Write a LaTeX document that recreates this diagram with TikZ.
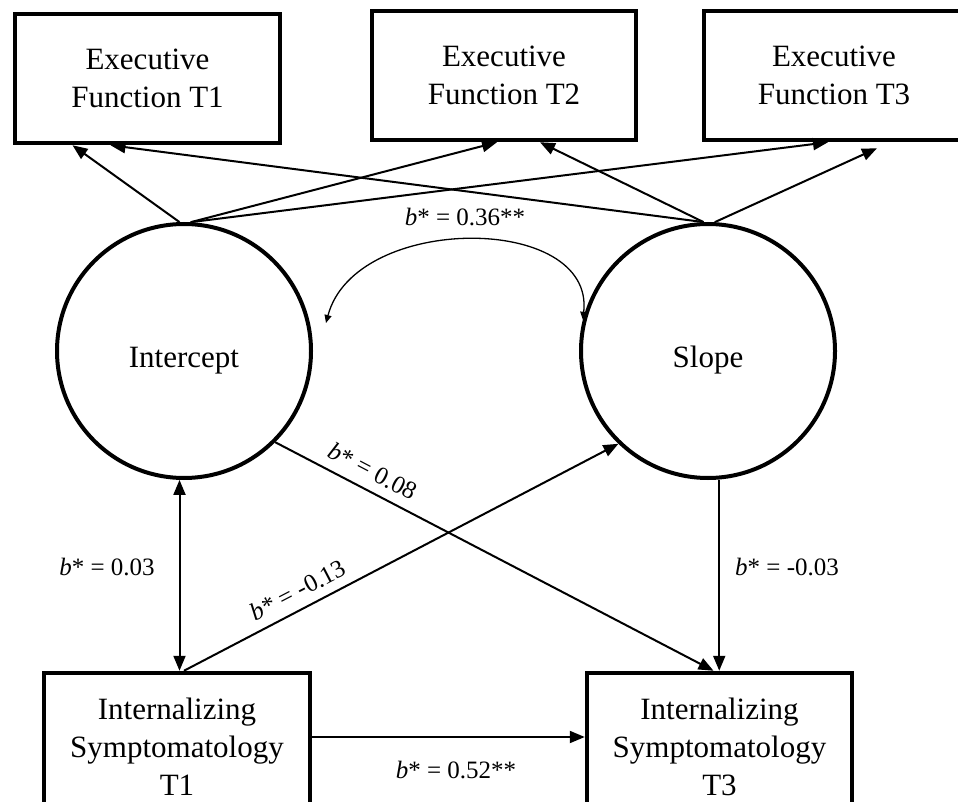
\documentclass[tikz,border=0pt]{standalone}
\usepackage{fontspec}
\setmainfont{Liberation Serif}
\usetikzlibrary{arrows.meta,calc}
\tikzset{
  obsbox/.style={draw=black,line width=4.5pt,minimum width=265pt,
    minimum height=129pt,align=center,inner sep=2pt,
    font=\fontsize{31}{38}\selectfont},
  latcirc/.style={circle,draw=black,line width=4pt,minimum size=254pt,
    inner sep=0pt,text height=38pt,text depth=6pt,
    font=\fontsize{31}{38}\selectfont},
  regarr/.style={->,line width=2pt},
  dblarr/.style={<->,line width=2pt},
  covarr/.style={{Triangle[length=8pt,width=7pt]}-{Triangle[length=8pt,width=7pt]},
    line width=1.3pt},
  coeflbl/.style={font=\fontsize{25}{30}\selectfont,inner sep=2pt},
}
\begin{document}
\begin{tikzpicture}[x=1pt,y=-1pt,>={Triangle[length=15pt,width=12pt]}]
  \useasboundingbox (0,0) rectangle (958,802);
  % executive function indicators
  \node[obsbox] (ef1) at (147.5,78.5) {Executive\\Function T1};
  \node[obsbox,minimum width=264pt] (ef2) at (504,75.5) {Executive\\Function T2};
  \node[obsbox,minimum width=260pt] (ef3) at (834,75.5) {Executive\\Function T3};
  % growth factors
  \node[latcirc] (inter) at (184,351) {Intercept};
  \node[latcirc] (slope) at (708,351) {Slope};
  % internalizing symptomatology
  \node[obsbox,minimum width=266pt,minimum height=148pt] (ist1) at (177,747)
    {Internalizing\\Symptomatology\\T1};
  \node[obsbox,minimum height=148pt] (ist3) at (719.5,747)
    {Internalizing\\Symptomatology\\T3};

  % loadings
  \draw[regarr] (inter.92) -- ([xshift=-75pt]ef1.south);
  \draw[regarr] (inter.87) -- ([xshift=-7pt]ef2.south);
  \draw[regarr] (inter.87) -- ([xshift=-6pt]ef3.south);
  \draw[regarr] (slope.92) -- ([xshift=-37pt]ef1.south);
  \draw[regarr] (slope.92) -- ([xshift=36pt]ef2.south);
  \draw[regarr] (slope.87) -- ([xshift=43pt,yshift=-6pt]ef3.south);

  % intercept-slope covariance
  \coordinate (cvl) at (326,323);
  \draw[covarr] (cvl) .. controls (355,213) and (595,213) .. (slope.166);
  \node[coeflbl] (c36) at (465,217) {\textit{b}* = 0.36**};

  % paths to and from internalizing
  \draw[dblarr] (inter.268) -- (inter.268 |- ist1.north);
  \node[coeflbl] (c03) at (107,567) {\textit{b}* = 0.03};
  \draw[regarr] ([xshift=7pt]ist1.north) -- (slope.226);
  \node[coeflbl,rotate=27.5] (cm13) at (298,590) {\textit{b}* = -0.13};
  \draw[regarr] (inter.315) -- ([xshift=-6pt]ist3.north);
  \node[coeflbl,rotate=-27.7] (c08) at (373,471) {\textit{b}* = 0.08};
  \draw[regarr] (slope.275) -- (slope.275 |- ist3.north);
  \node[coeflbl] (cm03) at (787,567) {\textit{b}* = -0.03};
  \draw[regarr] ([yshift=10pt]ist1.east) -- ([yshift=10pt]ist3.west);
  \node[coeflbl] (c52) at (456,770) {\textit{b}* = 0.52**};
\end{tikzpicture}
\end{document}
